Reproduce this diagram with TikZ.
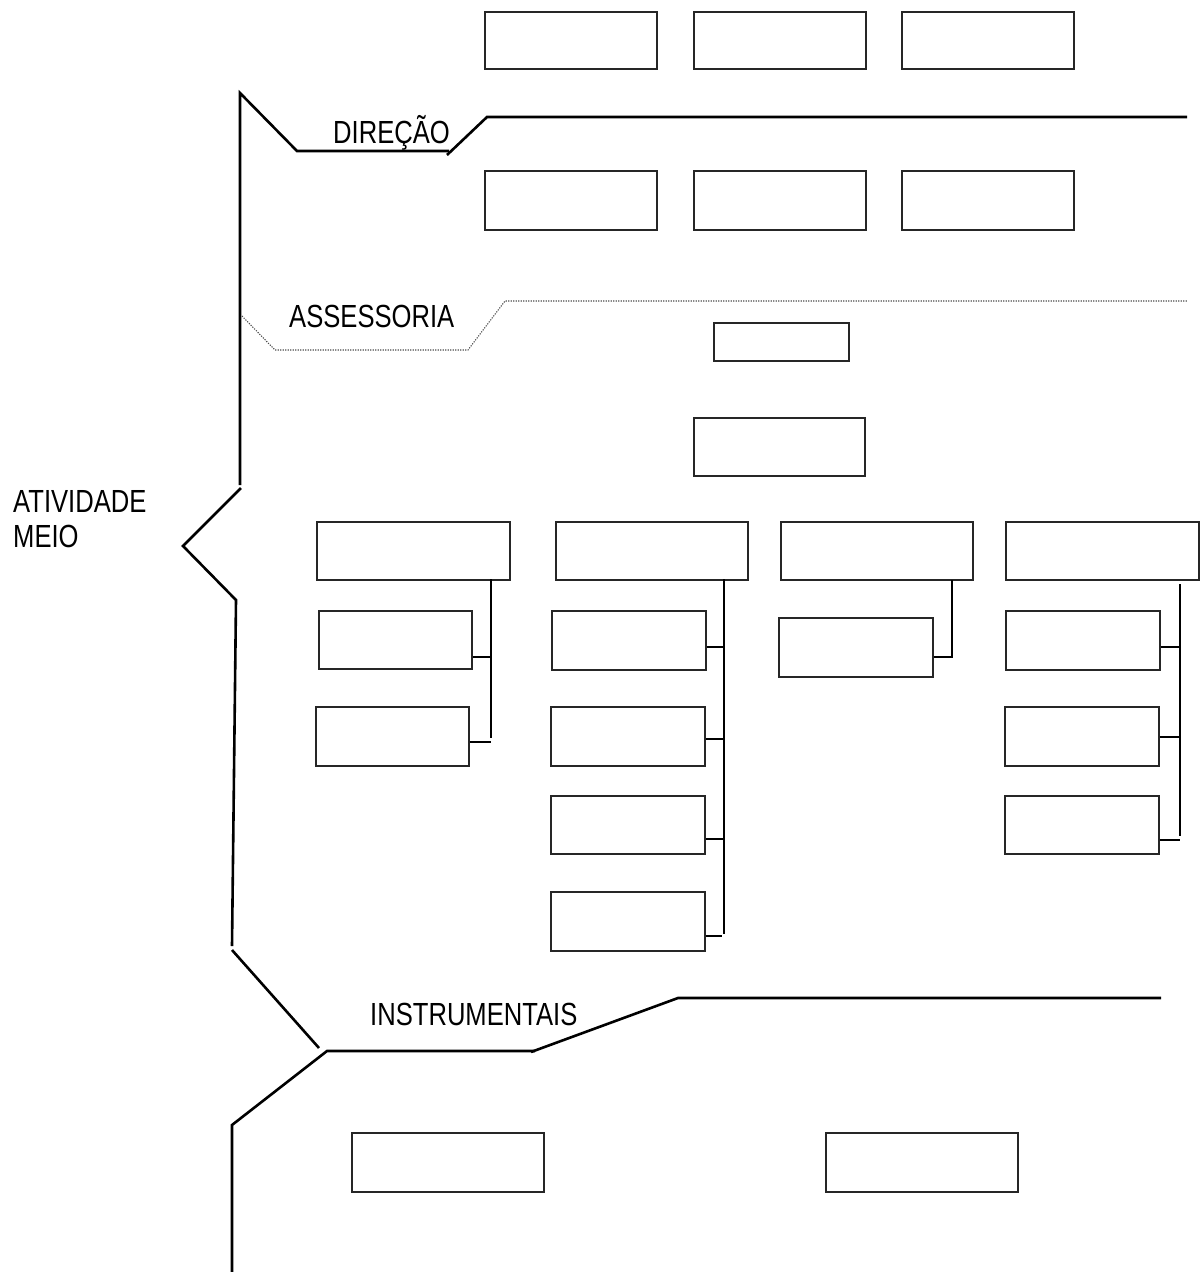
\documentclass[tikz,border=0pt]{standalone}
\usepackage{fontspec}
\usepackage{graphicx}
\setmainfont{Liberation Sans}
\newcommand{\nar}[1]{\scalebox{0.8}[1]{#1}}
\begin{document}
\begin{tikzpicture}[x=1pt,y=-1pt,
  box/.style={draw=black!85, line width=1.2pt, rectangle, inner sep=0pt},
  thick line/.style={line width=2.6pt, line cap=butt, line join=miter},
  conn/.style={line width=2.2pt},
  dotline/.style={line width=1.1pt, black!70, dash pattern=on 1.2pt off 1.3pt},
  lbl/.style={font=\fontsize{32}{35}\selectfont, inner sep=0pt, anchor=base west, align=left}]
\useasboundingbox (0,0) rectangle (1200,1272);
\newcommand{\bx}[5]{\node[box, minimum width={#4-#2}, minimum height={#5-#3}] (#1) at ({(#2+#4)/2},{(#3+#5)/2}) {};}
% top rows
\bx{t1}{485}{12}{657}{69}
\bx{t2}{694}{12}{866}{69}
\bx{t3}{902}{12}{1074}{69}
\bx{d1}{485}{171}{657}{230}
\bx{d2}{694}{171}{866}{230}
\bx{d3}{902}{171}{1074}{230}
\bx{s1}{714}{323}{849}{361}
\bx{m1}{694}{418}{865}{476}
% parents
\bx{p1}{317}{522}{510}{580}
\bx{p2}{556}{522}{748}{580}
\bx{p3}{781}{522}{973}{580}
\bx{p4}{1006}{522}{1199}{580}
% group 1
\bx{a1}{319}{611}{472}{669}
\bx{a2}{316}{707}{469}{766}
% group 2
\bx{b1}{552}{611}{706}{670}
\bx{b2}{551}{707}{705}{766}
\bx{b3}{551}{796}{705}{854}
\bx{b4}{551}{892}{705}{951}
% group 3
\bx{c1}{779}{618}{933}{677}
% group 4
\bx{e1}{1006}{611}{1160}{670}
\bx{e2}{1005}{707}{1159}{766}
\bx{e3}{1005}{796}{1159}{854}
% bottom
\bx{f1}{352}{1133}{544}{1192}
\bx{f2}{826}{1133}{1018}{1192}

% vertical connector coordinates
\coordinate (v1t) at (491,579); \coordinate (v1b) at (491,738);
\coordinate (v2t) at (724,579); \coordinate (v2b) at (724,934);
\coordinate (v3t) at (952,580); \coordinate (v3b) at (952,658);
\coordinate (v4t) at (1180,584); \coordinate (v4b) at (1180,836);
\draw[conn] (v1t) -- (v1b);
\draw[conn] (v2t) -- (v2b);
\draw[conn] (v3t) -- (v3b);
\draw[conn] (v4t) -- (v4b);
\draw[conn] (a1.east |- 0,657) -- (v1t |- 0,657);
\draw[conn] (a2.east |- 0,742) -- (v1t |- 0,742);
\draw[conn] (b1.east |- 0,647) -- (v2t |- 0,647);
\draw[conn] (b2.east |- 0,739) -- (v2t |- 0,739);
\draw[conn] (b3.east |- 0,839) -- (v2t |- 0,839);
\draw[conn] (b4.east |- 0,936) -- (722,936);
\draw[conn] (c1.east |- 0,657) -- (v3t |- 0,657);
\draw[conn] (e1.east |- 0,647) -- (v4t |- 0,647);
\draw[conn] (e2.east |- 0,737) -- (v4t |- 0,737);
\draw[conn] (e3.east |- 0,840) -- (v4t |- 0,840);

% bracket lines
\draw[thick line] (240,485) -- (240,93) -- (297,151) -- (449,151);
\draw[thick line] (447,155) -- (487,117) -- (1187,117);
\draw[dotline] (242,316) -- (275,350) -- (468,350) -- (505,301) -- (1187,301);
\draw[thick line] (241,488) -- (183,546) -- (236,600) -- (232,946);
\draw[thick line] (232,950) -- (319,1048);
\draw[thick line] (232,1272) -- (232,1125) -- (327,1051) -- (535,1051);
\draw[thick line] (531,1052) -- (678,998) -- (1161,998);

% labels
\node[lbl] (dir) at (333,143) {\nar{DIREÇÃO}};
\node[lbl] (ass) at (289,327) {\nar{ASSESSORIA}};
\node[lbl] (ins) at (370,1025) {\nar{INSTRUMENTAIS}};
\node[lbl] (ati) at (13,547) {\nar{ATIVIDADE}\\\nar{MEIO}};
\end{tikzpicture}
\end{document}
